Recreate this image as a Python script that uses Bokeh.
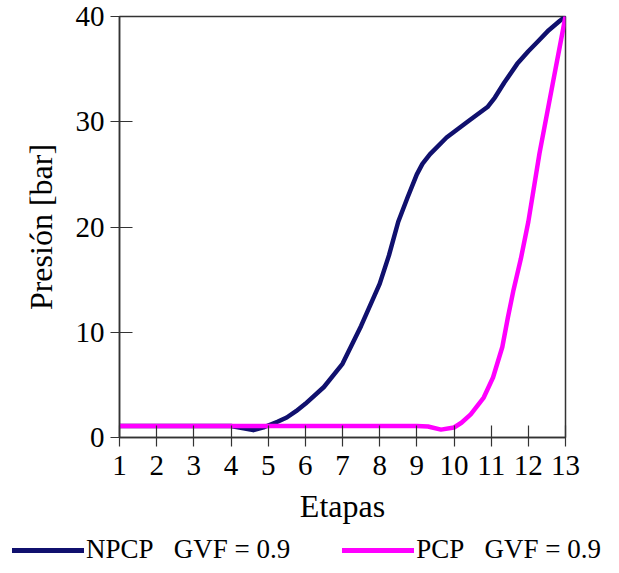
from bokeh.plotting import figure
from bokeh.models import Range1d, Legend, LegendItem, FixedTicker
from bokeh.embed import file_html
from bokeh.resources import INLINE

# Data
npcp_x = [1, 2, 3, 4, 4.3, 4.6, 4.9, 5.25, 5.5, 5.75, 6, 6.5, 7, 7.5, 8, 8.25,
          8.5, 8.75, 9, 9.15, 9.35, 9.8, 10.4, 10.9, 11.1, 11.35, 11.7, 12.0,
          12.25, 12.55, 12.85, 13]
npcp_y = [1.1, 1.1, 1.1, 1.1, 0.9, 0.7, 1.0, 1.5, 1.9, 2.5, 3.2, 4.8, 7.0,
          10.6, 14.6, 17.3, 20.5, 22.8, 25.0, 26.0, 26.9, 28.5, 30.1, 31.4,
          32.3, 33.7, 35.5, 36.7, 37.6, 38.7, 39.6, 40.0]

pcp_x = [1, 2, 3, 4, 5, 6, 7, 8, 9, 9.3, 9.65, 10, 10.2, 10.45, 10.8, 11.05,
         11.3, 11.45, 11.6, 11.8, 12.0, 12.3, 12.65, 13]
pcp_y = [1.1, 1.1, 1.1, 1.1, 1.1, 1.1, 1.1, 1.1, 1.1, 1.05, 0.75, 0.95, 1.4,
         2.2, 3.8, 5.7, 8.6, 11.4, 14.0, 17.0, 20.5, 27.0, 33.5, 40.0]

x_ticks = list(range(1, 14))
y_ticks = [0, 10, 20, 30, 40]

label_npcp = "NPCP\u00a0\u00a0\u00a0GVF = 0.9"
label_pcp = "PCP\u00a0\u00a0\u00a0GVF = 0.9"

NAVY = "#10106e"
MAGENTA = "#ff00ff"
FONT = "Liberation Serif"

p = figure(width=611, height=533, output_backend="svg", toolbar_location=None,
           x_range=Range1d(1, 13), y_range=Range1d(0, 40),
           min_border_left=119, min_border_top=16, min_border_right=46,
           min_border_bottom=96)

p.xgrid.visible = False
p.ygrid.visible = False
p.outline_line_color = "#333333"
p.outline_line_width = 1.5
p.background_fill_color = "white"
p.border_fill_color = "white"

for ax in (p.xaxis[0], p.yaxis[0]):
    ax.axis_line_color = "#333333"
    ax.axis_line_width = 1.5
    ax.major_tick_line_color = "#333333"
    ax.major_tick_line_width = 1.2
    ax.minor_tick_line_color = None
    ax.major_label_text_font = FONT
    ax.major_label_text_font_size = "29px"
    ax.major_label_text_color = "black"
    ax.axis_label_text_font = FONT
    ax.axis_label_text_font_size = "32px"
    ax.axis_label_text_font_style = "normal"
    ax.axis_label_text_color = "black"

p.xaxis.ticker = FixedTicker(ticks=x_ticks)
p.yaxis.ticker = FixedTicker(ticks=y_ticks)
p.xaxis.axis_label = "Etapas"
p.yaxis.axis_label = "Presión [bar]"
p.xaxis.major_tick_in = 12
p.xaxis.major_tick_out = 9
p.yaxis.major_tick_in = 13
p.yaxis.major_tick_out = 9
p.xaxis.major_label_standoff = 9
p.yaxis.major_label_standoff = 6
p.xaxis.axis_label_standoff = 10
p.yaxis.axis_label_standoff = 14

p.line(npcp_x, npcp_y, line_color=NAVY, line_width=4.5,
       line_join="round", line_cap="round")
p.line(pcp_x, pcp_y, line_color=MAGENTA, line_width=4.5,
       line_join="round", line_cap="round")

# Legend strip below the chart (its swatch lines lie outside its view)
lg = figure(width=611, height=40, output_backend="svg", toolbar_location=None,
            x_range=Range1d(-20, -10), y_range=Range1d(-20, -10),
            x_axis_location=None, y_axis_location=None, min_border=0)
lg.xgrid.visible = False
lg.ygrid.visible = False
lg.outline_line_color = None
lg.background_fill_color = "white"
lg.border_fill_color = "white"
k1 = lg.line(npcp_x, npcp_y, line_color=NAVY, line_width=5, line_cap="round")
k2 = lg.line(pcp_x, pcp_y, line_color=MAGENTA, line_width=5, line_cap="round")

legend = Legend(items=[LegendItem(label=label_npcp, renderers=[k1]),
                       LegendItem(label=label_pcp, renderers=[k2])],
                orientation="horizontal", location=(12, 8),
                border_line_color=None, background_fill_alpha=0,
                padding=0, margin=0, spacing=52, label_standoff=2,
                glyph_width=72, glyph_height=30,
                label_text_font=FONT, label_text_font_size="27px",
                label_text_color="black")
lg.add_layout(legend, "center")

open("out.html", "w").write(file_html([p, lg], INLINE))
